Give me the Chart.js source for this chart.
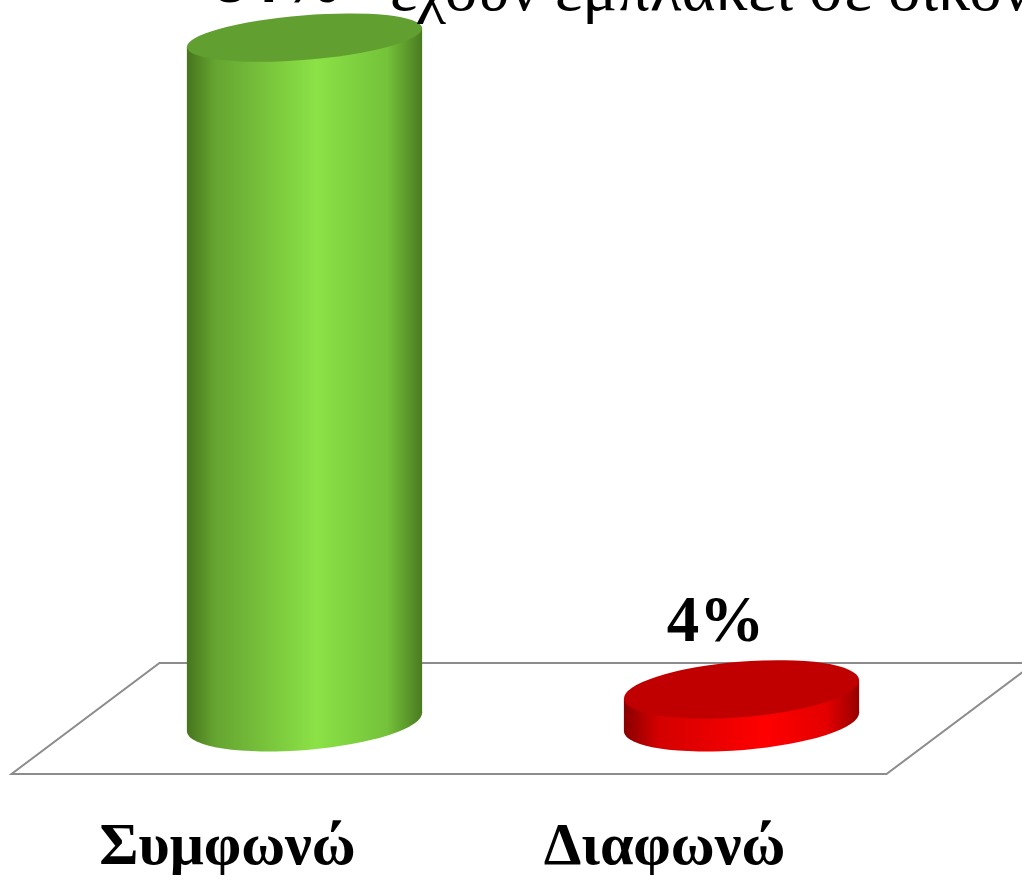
<!DOCTYPE html>
<html>
<head>
<meta charset="utf-8">
<script src="https://cdn.jsdelivr.net/npm/chart.js@4"></script>
<style>
  body { margin: 0; background: #fff; }
  canvas { display: block; }
</style>
</head>
<body>
<canvas id="graph_canvas" width="1022" height="883"></canvas>
<script>
const categories = ['Συμφωνώ', 'Διαφωνώ'];
const percents = [84, 4];
const headline = 'έχουν εμπλακεί σε οικονομικές';

// side gradient stops and top colour per cylinder
const sideStops = [
    [[0, '#46741d'], [0.12, '#65a431'], [0.55, '#8be246'], [0.85, '#74c23a'], [1, '#4a7a20']],
    [[0, '#880000'], [0.15, '#d40000'], [0.6, '#ff0000'], [0.86, '#e40000'], [1, '#960000']]
];
const topColors = ['#619f30', '#c00000'];
const serif = '"Liberation Serif", "Times New Roman", serif';
const tilt = -0.082;

// leftmost / rightmost points of a rotated ellipse
function ellipseEdges(cx, cy, rx, ry, rot) {
    const t = Math.atan2(-ry * Math.sin(rot), rx * Math.cos(rot));
    const pts = [t, t + Math.PI].map(a => ({
        x: cx + rx * Math.cos(a) * Math.cos(rot) - ry * Math.sin(a) * Math.sin(rot),
        y: cy + rx * Math.cos(a) * Math.sin(rot) + ry * Math.sin(a) * Math.cos(rot)
    }));
    pts.sort((a, b) => a.x - b.x);
    return pts;
}

const floorPlugin = {
    id: 'floor',
    beforeDatasetsDraw(chart) {
        const ctx = chart.ctx;
        const area = chart.chartArea;
        const y0 = chart.scales.y.getPixelForValue(0);
        ctx.save();
        ctx.strokeStyle = '#8c8c8c';
        ctx.lineWidth = 2;
        ctx.beginPath();
        ctx.moveTo(area.left + 73.5, y0 - 59);
        ctx.lineTo(area.right + 74.5, y0 - 59);
        ctx.lineTo(area.right - 73.5, y0 + 52);
        ctx.lineTo(area.left - 74.5, y0 + 52);
        ctx.closePath();
        ctx.stroke();
        ctx.restore();
    }
};

const cylinderPlugin = {
    id: 'cylinders',
    afterDatasetsDraw(chart) {
        const ctx = chart.ctx;
        const area = chart.chartArea;
        const meta = chart.getDatasetMeta(0);
        meta.data.forEach((bar, i) => {
            const p = bar.getProps(['x', 'y', 'base', 'width'], true);
            const rx = p.width / 2;
            const ryOf = y => 22 + 6 * (y - area.top) / area.height;
            const ryTop = ryOf(p.y), ryBot = ryOf(p.base);
            const top = ellipseEdges(p.x, p.y, rx, ryTop, tilt);
            const bot = ellipseEdges(p.x, p.base, rx, ryBot, tilt);

            const grad = ctx.createLinearGradient(p.x - rx, 0, p.x + rx, 0);
            sideStops[i].forEach(s => grad.addColorStop(s[0], s[1]));

            ctx.save();
            ctx.fillStyle = grad;
            ctx.beginPath();
            ctx.moveTo(top[0].x, top[0].y);
            ctx.lineTo(top[1].x, top[1].y);
            ctx.lineTo(bot[1].x, bot[1].y);
            ctx.lineTo(bot[0].x, bot[0].y);
            ctx.closePath();
            ctx.fill();
            ctx.beginPath();
            ctx.ellipse(p.x, p.base, rx, ryBot, tilt, 0, Math.PI * 2);
            ctx.fill();

            ctx.fillStyle = topColors[i];
            ctx.beginPath();
            ctx.ellipse(p.x, p.y, rx, ryTop, tilt, 0, Math.PI * 2);
            ctx.fill();

            // value label above the cylinder
            const lift = 35 + 14 * (p.y - area.top) / area.height;
            ctx.fillStyle = '#000';
            ctx.font = 'bold 65px ' + serif;
            ctx.textAlign = 'center';
            ctx.textBaseline = 'alphabetic';
            ctx.fillText(percents[i] + '%', p.x - 26, p.y - lift);
            ctx.restore();
        });
    },
    afterDraw(chart) {
        const ctx = chart.ctx;
        ctx.save();
        ctx.fillStyle = '#000';
        ctx.font = '65px ' + serif;
        ctx.textAlign = 'left';
        ctx.textBaseline = 'alphabetic';
        ctx.fillText(headline, 390, 10);
        ctx.restore();
    }
};

const canvas = document.getElementById('graph_canvas');
new Chart(canvas.getContext('2d'), {
    type: 'bar',
    data: {
        labels: categories,
        datasets: [{
            data: percents,
            backgroundColor: 'rgba(0,0,0,0)',
            borderWidth: 0,
            barPercentage: 0.54,
            categoryPercentage: 1
        }]
    },
    options: {
        responsive: false,
        animation: false,
        layout: { padding: { left: 86, right: 62, top: 5, bottom: 8 } },
        plugins: {
            legend: { display: false },
            tooltip: { enabled: false }
        },
        scales: {
            x: {
                grid: { display: false },
                border: { display: false },
                ticks: {
                    color: '#000',
                    font: { family: serif, size: 60, weight: 'bold' },
                    padding: 82,
                    labelOffset: -77,
                    maxRotation: 0,
                    autoSkip: false
                },
                afterFit: scale => { scale.height = 153; }
            },
            y: { display: false, min: 0, max: 88 }
        }
    },
    plugins: [floorPlugin, cylinderPlugin]
});
</script>
</body>
</html>
